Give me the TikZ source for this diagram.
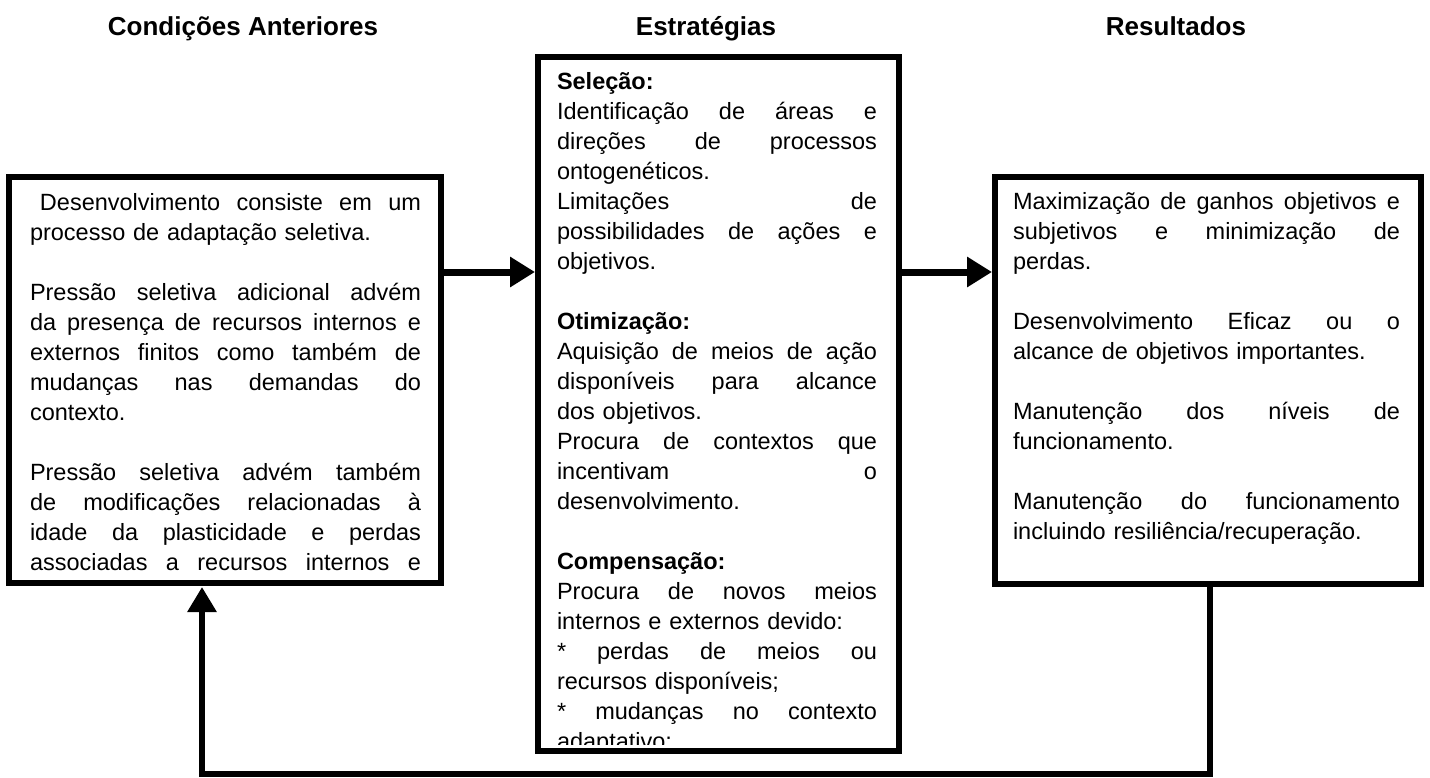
\documentclass[tikz,border=0pt]{standalone}
\usepackage{fontspec}
\setmainfont{Liberation Sans}
\usetikzlibrary{arrows.meta}
\newcommand\J[1]{\leavevmode\hbox to \hsize{\spaceskip=0.278em plus 1fil\relax #1}}
\begin{document}
\begin{tikzpicture}[x=0.5pt,y=-0.5pt,
  box/.style={draw=black, line width=3.25pt, inner sep=0pt, outer sep=0pt, anchor=north west},
  txt/.style={anchor=north west, inner sep=0pt, outer sep=0pt, align=left, font=\fontsize{11.75pt}{15pt}\selectfont},
  hdr/.style={anchor=base, inner sep=0pt, font=\fontsize{13pt}{15pt}\selectfont\bfseries},
  conn/.style={line width=3.5pt, -{Triangle[length=12.5pt,width=14.5pt]}, shorten >=1.5pt},
  fb/.style={line width=3pt, line join=miter, -{Triangle[length=12.5pt,width=14pt]}, shorten >=2pt}]
\useasboundingbox (0,0) rectangle (1430,777);

% headers
\node[hdr] (h1) at (243,35) {Condições Anteriores};
\node[hdr] (h2) at (706,35) {Estratégias};
\node[hdr] (h3) at (1176,35) {Resultados};

% boxes
\node[box, minimum width=216pt, minimum height=203pt] (L) at (9,177) {};
\node[box, minimum width=180.5pt, minimum height=347pt] (M) at (538,57) {};
\node[box, minimum width=213pt, minimum height=203.5pt] (R) at (995,177) {};

% left text
\begin{scope}
\clip (12,180) rectangle (438,580);
\node[txt, text width=195.5pt] (Lt) at (30,189) {\strut\J{\hspace*{5pt}Desenvolvimento consiste em um}\\
processo de adaptação seletiva.\\[15pt]
\J{Pressão seletiva adicional advém}\\
\J{da presença de recursos internos e}\\
\J{externos finitos como também de}\\
\J{mudanças nas demandas do}\\
contexto.\\[15pt]
\J{Pressão seletiva advém também}\\
\J{de modificações relacionadas à}\\
\J{idade da plasticidade e perdas}\\
\J{associadas a recursos internos e}};
\end{scope}

% middle text
\begin{scope}
\clip (541,60) rectangle (896,744);
\node[txt, text width=160pt] (Mt) at (557,68) {\strut\textbf{Seleção:}\\
\J{Identificação de áreas e}\\
\J{direções de processos}\\
ontogenéticos.\\
\J{Limitações de}\\
\J{possibilidades de ações e}\\
objetivos.\\[15pt]
\textbf{Otimização:}\\
\J{Aquisição de meios de ação}\\
\J{disponíveis para alcance}\\
dos objetivos.\\
\J{Procura de contextos que}\\
\J{incentivam o}\\
desenvolvimento.\\[15pt]
\textbf{Compensação:}\\
\J{Procura de novos meios}\\
internos e externos devido:\\
\J{* perdas de meios ou}\\
recursos disponíveis;\\
\J{* mudanças no contexto}\\
adaptativo;};
\end{scope}

% right text
\node[txt, text width=193.5pt] (Rt) at (1013,188) {\strut\J{Maximização de ganhos objetivos e}\\
\J{subjetivos e minimização de}\\
perdas.\\[15pt]
\J{Desenvolvimento Eficaz ou o}\\
alcance de objetivos importantes.\\[15pt]
\J{Manutenção dos níveis de}\\
funcionamento.\\[15pt]
\J{Manutenção do funcionamento}\\
incluindo resiliência/recuperação.};

% connectors
\coordinate (ya) at (0,272);
\draw[conn] (L.east |- ya) -- (M.west |- ya);
\draw[conn] (M.east |- ya) -- (R.west |- ya);
\coordinate (c1) at (1210,774);
\coordinate (c2) at (202,774);
\draw[fb] (R.south -| c1) -- (c1) -- (c2) -- (L.south -| c2);
\end{tikzpicture}
\end{document}
